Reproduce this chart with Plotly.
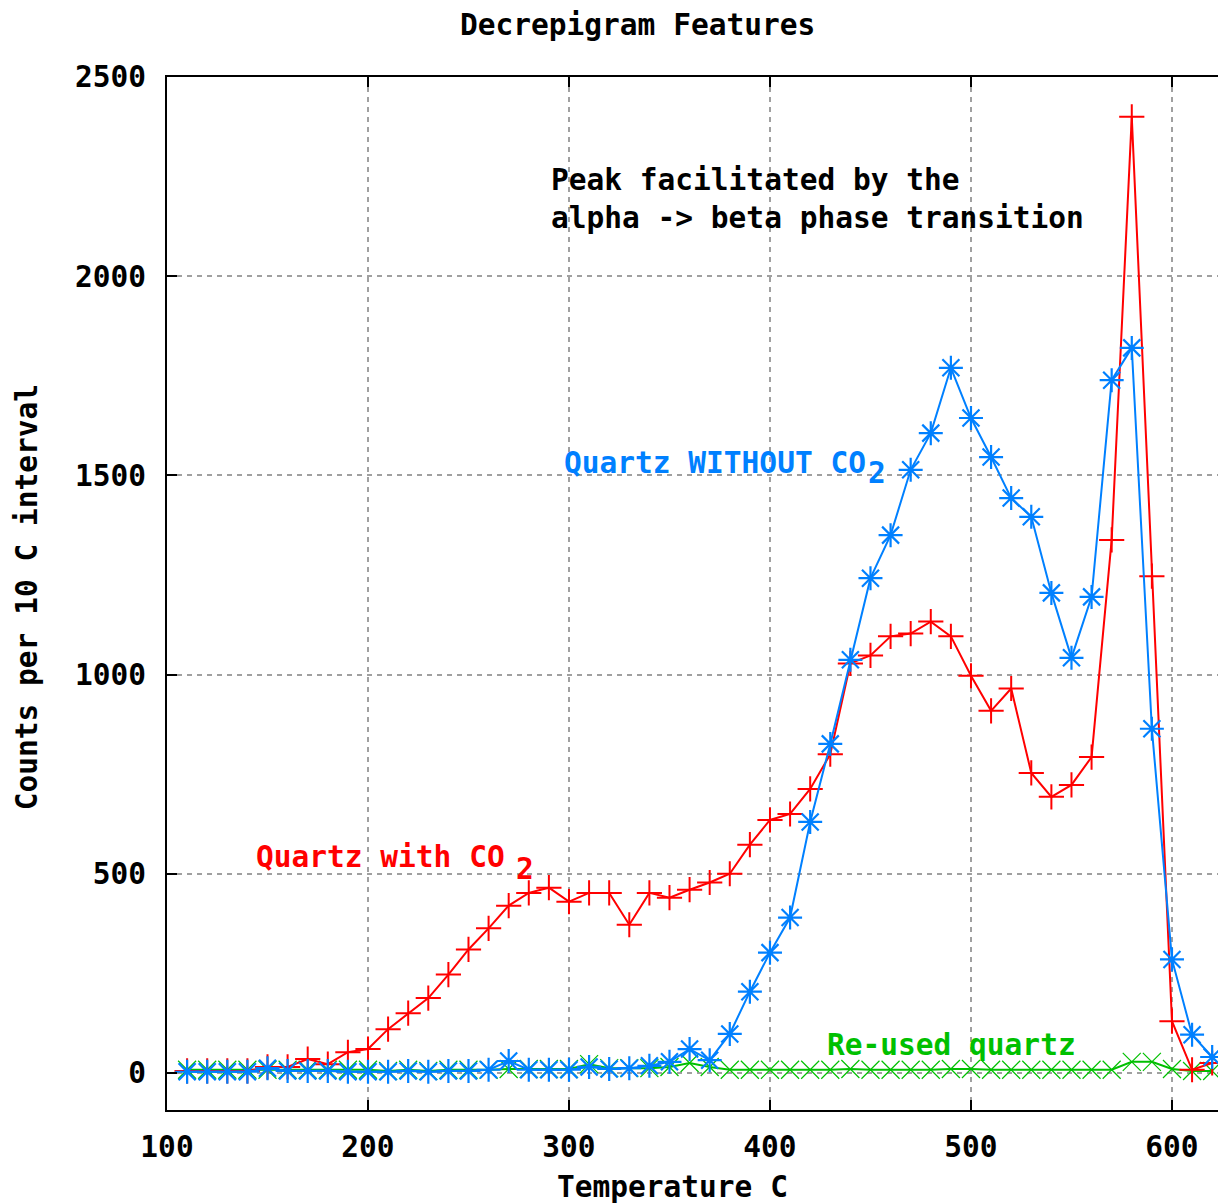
import plotly.graph_objects as go

temps = list(range(110, 630, 10))

with_co2 = [5, 5, 5, 5, 15, 15, 35, 22, 52, 60,
            110, 150, 188, 247, 310, 363, 420, 452, 465, 430,
            452, 452, 372, 452, 440, 460, 478, 500, 573, 635,
            650, 713, 800, 1028, 1048, 1096, 1103, 1133, 1096, 997,
            909, 965, 753, 693, 723, 793, 1338, 2400, 1247, 130,
            8, 25]

without_co2 = [3, 3, 3, 3, 12, 5, 5, 5, 3, 3,
               3, 5, 3, 5, 5, 8, 30, 8, 8, 8,
               15, 10, 12, 18, 28, 60, 32, 98, 204, 302,
               390, 630, 826, 1037, 1242, 1350, 1514, 1606, 1770, 1644,
               1546, 1443, 1396, 1205, 1042, 1195, 1739, 1820, 864, 285,
               96, 40]

reused = [8, 8, 8, 8, 8, 8, 8, 8, 8, 8,
          5, 8, 5, 8, 8, 8, 10, 10, 10, 10,
          22, 12, 12, 12, 15, 25, 15, 8, 8, 8,
          8, 8, 8, 10, 8, 8, 8, 8, 10, 10,
          8, 8, 8, 8, 8, 8, 8, 28, 28, 10,
          5, 5]

RED = "#ff0000"
GREEN = "#00c000"
BLUE = "#0080ff"
FONT = "DejaVu Sans Mono"
FS = 29.5

fig = go.Figure()
fig.add_trace(go.Scatter(
    x=temps, y=reused, mode="lines+markers", name="Re-used quartz",
    line=dict(color=GREEN, width=2),
    marker=dict(symbol="x-thin-open", size=18, color=GREEN,
                line=dict(color=GREEN, width=1.2))))
fig.add_trace(go.Scatter(
    x=temps, y=with_co2, mode="lines+markers", name="Quartz with CO2",
    line=dict(color=RED, width=2),
    marker=dict(symbol="cross-thin-open", size=18, color=RED,
                line=dict(color=RED, width=2))))
fig.add_trace(go.Scatter(
    x=temps, y=without_co2, mode="lines+markers", name="Quartz WITHOUT CO2",
    line=dict(color=BLUE, width=2),
    marker=dict(symbol="asterisk-open", size=20, color=BLUE,
                line=dict(color=BLUE, width=2.2))))

tf = dict(family=FONT, size=FS, color="black", weight="bold")

def ann(text, x, y, color, xanchor="left"):
    fig.add_annotation(x=x, y=y, xref="x", yref="y", text=text, showarrow=False,
                       xanchor=xanchor, yanchor="middle",
                       font=dict(family=FONT, size=FS, color=color, weight="bold"))

ann("Peak facilitated by the", 290, 2241, "black")
ann("alpha -&gt; beta phase transition", 290, 2146, "black")
ann("Quartz WITHOUT CO", 296.5, 1531, BLUE)
ann("2", 448, 1506, BLUE)
ann("Quartz with CO", 143.3, 542, RED)
ann("2", 272.5, 512, RED)
ann("Re-used quartz", 427.4, 70, GREEN)

def pann(text, x, y, angle=0):
    fig.add_annotation(x=x, y=y, xref="paper", yref="paper", text=text,
                       showarrow=False, xanchor="center", yanchor="middle",
                       textangle=angle, font=tf)

pann("Decrepigram Features", 0.448, 1.050)
pann("Temperature C", 0.4805, -0.0745)
pann("Counts per 10 C interval", -0.133, 0.4966, angle=-90)

axis_common = dict(
    showline=True, linecolor="black", linewidth=2,
    ticks="inside", ticklen=10, tickwidth=2, tickcolor="black",
    showgrid=True, gridcolor="#a0a0a0", gridwidth=2, griddash="5px,5px",
    zeroline=False, tickfont=tf,
)

fig.update_xaxes(range=[100, 622.9], tickvals=[100, 200, 300, 400, 500, 600],
                 mirror="ticks", ticklabelstandoff=10, **axis_common)
fig.update_yaxes(range=[-93, 2500], tickvals=[0, 500, 1000, 1500, 2000, 2500],
                 mirror=False, ticklabelstandoff=13, **axis_common)

fig.update_layout(
    width=1218, height=1204,
    margin=dict(l=167, r=0, t=77, b=94),
    paper_bgcolor="white", plot_bgcolor="white",
    showlegend=False,
)

fig.write_html("out.html",
               config={"displayModeBar": False},
               post_script="document.body.style.margin='0';document.body.style.overflow='hidden';")
